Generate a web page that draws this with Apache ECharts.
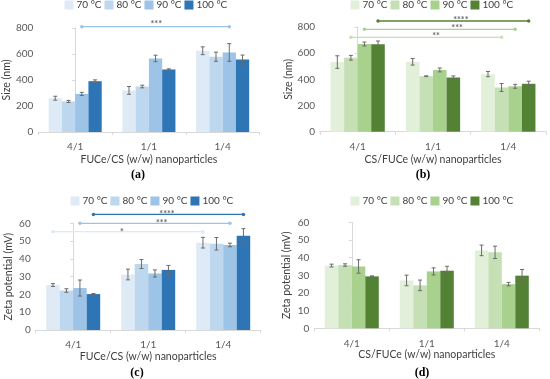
<!DOCTYPE html>
<html><head><meta charset="utf-8">
<script src="https://cdn.jsdelivr.net/npm/echarts@6/dist/echarts.min.js"></script>
<style>html,body{margin:0;padding:0;background:#fff}#c{width:550px;height:379px}</style>
</head><body><div id="c"></div>
<script>
const categories = ['4/1', '1/1', '1/4'];
const temps = ['70 °C', '80 °C', '90 °C', '100 °C'];
const blues = ['#deebf7', '#bdd7ee', '#9dc3e6', '#2e75b6'];
const greens = ['#e2f0d9', '#c5e0b4', '#a9d18e', '#548235'];

// values per temperature (rows) across categories (cols)
const sizeA = [[260, 320, 625], [235, 350, 579], [293, 566, 612], [391, 481, 557]];
const errA  = [[15, 30, 30], [8, 10, 35], [12, 25, 68], [10, 5, 35]];
const sizeB = [[532, 534, 440], [565, 424, 338], [670, 472, 347], [668, 414, 366]];
const errB  = [[48, 25, 20], [18, 3, 30], [15, 15, 15], [25, 12, 20]];
const zetaC = [[25.3, 31.2, 49.1], [22.2, 37.1, 48.5], [23.6, 31.8, 47.8], [20.2, 33.8, 53.0]];
const errC  = [[0.8, 3.0, 3.0], [1.0, 2.5, 3.5], [4.5, 2.0, 1.0], [0.3, 2.5, 4.0]];
const zetaD = [[35.5, 27.1, 44.1], [35.8, 24.3, 43.0], [35.0, 32.2, 25.0], [29.4, 32.6, 29.8]];
const errD  = [[0.8, 3.0, 3.0], [0.7, 3.0, 3.5], [3.8, 2.0, 1.0], [0.3, 2.5, 3.5]];

// significance brackets: [xStart, xEnd, y, label, labelX, labelY, colorIndex]
const sigA = [[0.09, 2.09, 810, '***', 1.10, 855, 2]];
const sigB = [[0.27, 2.27, 846, '****', 1.37, 878, 3], [0.09, 2.09, 782, '***', 1.32, 814, 2], [-0.09, 1.91, 721, '**', 1.04, 753, 1]];
const sigC = [[0.27, 2.27, 65.0, '****', 1.25, 66.6, 3], [0.09, 2.09, 60.0, '***', 1.18, 61.6, 2], [-0.27, 1.73, 55.3, '*', 0.65, 56.9, 0]];
const sigD = [];

const panels = [
  {vals: sizeA, errs: errA, sig: sigA, colors: blues, grid: {left: 34.5, top: 28, width: 225, height: 104}, ymax: 800, yint: 200, yname: 'Size (nm)', ygap: 26, xname: 'FUCe/CS (w/w) nanoparticles', xgap: 22, legend: {left: 64.5, top: 0}, tag: '(a)', tagPos: [133, 164]},
  {vals: sizeB, errs: errB, sig: sigB, colors: greens, grid: {left: 320, top: 27, width: 226, height: 104.7}, ymax: 800, yint: 200, yname: 'Size (nm)', ygap: 26, xname: 'CS/FUCe (w/w) nanoparticles', xgap: 22, legend: {left: 350.5, top: 0}, tag: '(b)', tagPos: [418, 164]},
  {vals: zetaC, errs: errC, sig: sigC, colors: blues, grid: {left: 35.7, top: 223.3, width: 225, height: 106.7}, ymax: 60, yint: 10, yname: 'Zeta potential (mV)', ygap: 22, xname: 'FUCe/CS (w/w) nanoparticles', xgap: 19, legend: {left: 70.5, top: 196}, tag: '(c)', tagPos: [132, 362]},
  {vals: zetaD, errs: errD, sig: sigD, colors: greens, grid: {left: 314.3, top: 222.3, width: 225, height: 106}, ymax: 60, yint: 10, yname: 'Zeta potential (mV)', ygap: 22, xname: 'CS/FUCe (w/w) nanoparticles', xgap: 20, legend: {left: 350.5, top: 196}, tag: '(d)', tagPos: [417, 362]}
];

const FONT = 'Lato, "Open Sans", sans-serif';
const BARW = 0.18;
const option = {
  animation: false,
  grid: [], xAxis: [], yAxis: [], series: [], legend: [], title: []
};

panels.forEach((p, g) => {
  option.grid.push(Object.assign({containLabel: false}, p.grid));
  option.xAxis.push({
    type: 'category', gridIndex: g, data: categories,
    axisLine: {lineStyle: {color: '#d9d9d9'}},
    axisTick: {show: true, length: 3, lineStyle: {color: '#d9d9d9'}},
    axisLabel: {color: '#595959', fontSize: 10, fontFamily: FONT, margin: 10},
    name: p.xname, nameLocation: 'middle', nameGap: p.xgap,
    nameTextStyle: {color: '#404040', fontSize: 10.5, fontFamily: FONT}
  });
  option.yAxis.push({
    type: 'value', gridIndex: g, min: 0, max: p.ymax, interval: p.yint,
    axisLine: {show: true, lineStyle: {color: '#d9d9d9'}},
    axisTick: {show: true, length: 3, lineStyle: {color: '#d9d9d9'}},
    splitLine: {show: false},
    axisLabel: {color: '#595959', fontSize: 10, fontFamily: FONT, margin: 5},
    name: p.yname, nameLocation: 'middle', nameGap: p.ygap, nameRotate: 90,
    nameTextStyle: {color: '#404040', fontSize: 10.5, fontFamily: FONT}
  });
  option.legend.push({
    left: p.legend.left, top: p.legend.top, width: 250, padding: 0, itemWidth: 9, itemHeight: 9, itemGap: 3,
    icon: 'rect', selectedMode: false, orient: 'horizontal',
    textStyle: {color: '#404040', fontSize: 10, fontFamily: FONT, padding: [0, 0, 0, -2]},
    data: temps.map((t, i) => ({name: t, itemStyle: {color: p.colors[i]}}))
  });
  option.title.push({
    text: p.tag, left: p.tagPos[0], top: p.tagPos[1], textAlign: 'center',
    textStyle: {fontFamily: '"Liberation Serif", serif', fontWeight: 'bold', fontSize: 12, color: '#000'}
  });
  temps.forEach((t, i) => {
    option.series.push({
      type: 'bar', name: t, xAxisIndex: g, yAxisIndex: g,
      data: p.vals[i], barWidth: (BARW * 100) + '%', barGap: '0%',
      itemStyle: {color: p.colors[i]}
    });
  });
  temps.forEach((t, i) => {
    option.series.push({
      type: 'custom', name: t + ' err', xAxisIndex: g, yAxisIndex: g, z: 10,
      data: p.vals[i].map((v, k) => [k, v, p.errs[i][k]]),
      renderItem: function (params, api) {
        const k = api.value(0), v = api.value(1), e = api.value(2);
        const bw = api.size([1, 0])[0];
        const off = (i - 1.5) * BARW * bw;
        const top = api.coord([k, v + e]);
        const bot = api.coord([k, v - e]);
        const x = top[0] + off;
        const cw = 2;
        const st = {stroke: '#6b6b6b', lineWidth: 1};
        return {type: 'group', children: [
          {type: 'line', shape: {x1: x, y1: top[1], x2: x, y2: bot[1]}, style: st},
          {type: 'line', shape: {x1: x - cw, y1: top[1], x2: x + cw, y2: top[1]}, style: st},
          {type: 'line', shape: {x1: x - cw, y1: bot[1], x2: x + cw, y2: bot[1]}, style: st}
        ]};
      }
    });
  });
});

// hidden value x axes for annotations
panels.forEach((p, g) => {
  option.xAxis.push({type: 'value', gridIndex: g, min: -0.5, max: 2.5, show: false});
  const xi = panels.length + g;
  p.sig.forEach(s => {
    option.series.push({
      type: 'line', xAxisIndex: xi, yAxisIndex: g, clip: false, z: 12,
      data: [[s[0], s[2]], [s[1], s[2]]],
      symbol: 'circle', symbolSize: 3.5, showSymbol: true,
      lineStyle: {color: p.colors[s[6]], width: 1.3},
      itemStyle: {color: p.colors[s[6]]}, silent: true
    });
    option.series.push({
      type: 'scatter', xAxisIndex: xi, yAxisIndex: g, clip: false, z: 12,
      data: [[s[4], s[5]]], symbolSize: 0, silent: true,
      label: {show: true, position: 'inside', formatter: s[3], color: '#404040', fontSize: 9, fontFamily: FONT, fontWeight: 'bold', offset: [0, 3]}
    });
  });
});

const chart = echarts.init(document.getElementById('c'), null, {renderer: 'canvas'});
chart.setOption(option);
</script></body></html>
